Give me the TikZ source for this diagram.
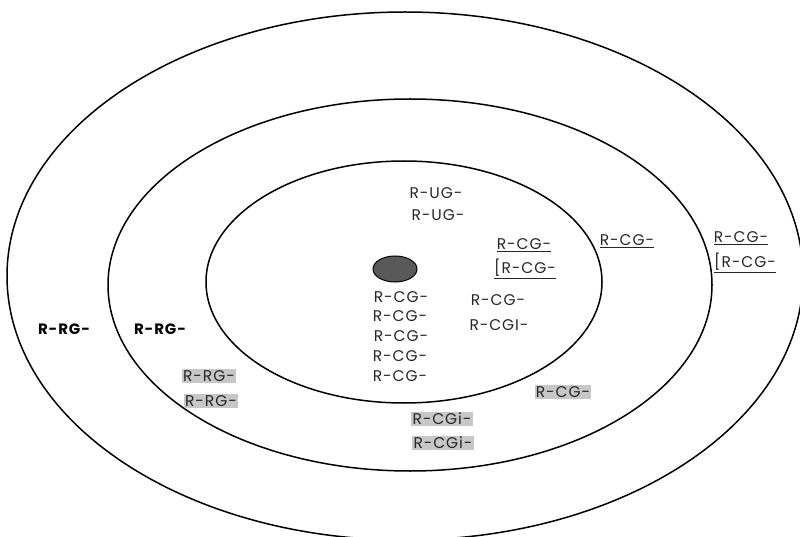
\documentclass[tikz,border=0pt]{standalone}
\usepackage{fontspec}
\usetikzlibrary{shapes.geometric}
\setmainfont{Poppins}[LetterSpace=6]
\begin{document}
\begin{tikzpicture}[x=1pt,y=-1pt,
  ring/.style={draw=black, line width=1.5pt},
  lbl/.style={inner sep=1.2pt, text=black!85, font=\fontsize{15.5}{16}\selectfont},
  hl/.style={lbl, fill=black!22},
  bl/.style={inner sep=1.2pt, text=black, font=\fontsize{15}{16}\selectfont\bfseries}]
\useasboundingbox (0,0) rectangle (800,537);
\clip (0,0) rectangle (800,537);
% rings
\draw[ring] (405,276) ellipse [x radius=398, y radius=264];
\draw[ring] (410,285) ellipse [x radius=302, y radius=186];
\draw[ring] (404,282) ellipse [x radius=198, y radius=121];
% core
\node[draw=black, fill=black!65, line width=1pt, ellipse, minimum width=44pt, minimum height=26pt, inner sep=0pt] (core) at (395,269) {};
% inner texts
\node[lbl] (ug1) at (436,193) {R-UG-};
\node[lbl] (ug2) at (438,215) {R-UG-};
\node[lbl] (u1) at (524,245) {\underline{R-CG-}};
\node[lbl] (u2) at (525,269) {\underline{[R-CG-}};
\node[lbl] (c1) at (401,297) {R-CG-};
\node[lbl] (c2) at (400,316) {R-CG-};
\node[lbl] (c3) at (401,336) {R-CG-};
\node[lbl] (c4) at (400,356) {R-CG-};
\node[lbl] (c5) at (400,376) {R-CG-};
\node[lbl] (d1) at (498,300) {R-CG-};
\node[lbl] (d2) at (499,325) {R-CGI-};
% middle ring texts
\node[hl] (h1) at (563,392) {R-CG-};
\node[hl] (h2) at (442,419) {R-CGi-};
\node[hl] (h3) at (443,443) {R-CGi-};
\node[hl] (h4) at (209,376) {R-RG-};
\node[hl] (h5) at (211,401) {R-RG-};
\node[bl] (b2) at (160,329) {R-RG-};
\node[lbl] (m1) at (627,241) {\underline{R-CG-}};
% outer ring texts
\node[bl] (b1) at (64,329) {R-RG-};
\node[lbl] (o1) at (741,238) {\underline{R-CG-}};
\node[lbl] (o2) at (745,263) {\underline{[R-CG-}};
\end{tikzpicture}
\end{document}
